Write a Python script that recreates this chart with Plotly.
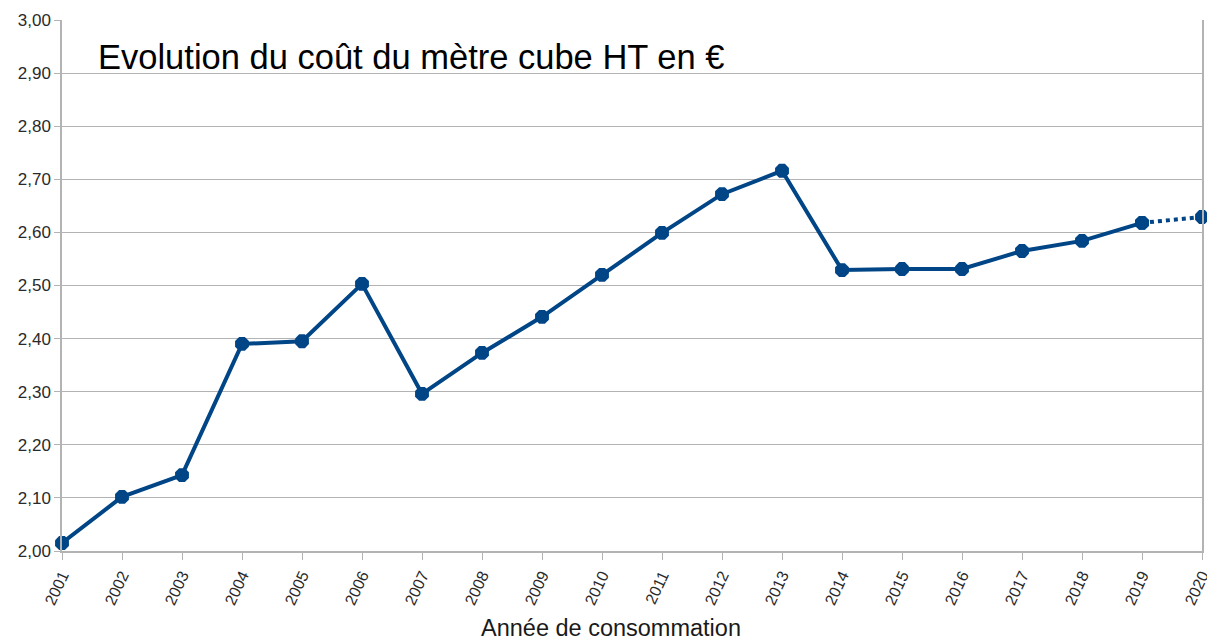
import plotly.graph_objects as go

# Données
annees = [2001, 2002, 2003, 2004, 2005, 2006, 2007, 2008, 2009, 2010,
          2011, 2012, 2013, 2014, 2015, 2016, 2017, 2018, 2019, 2020]
cout_m3 = [2.015, 2.102, 2.143, 2.390, 2.395, 2.503, 2.296, 2.373, 2.441, 2.520,
           2.599, 2.672, 2.716, 2.529, 2.531, 2.531, 2.565, 2.584, 2.618, 2.629]

bleu = '#004586'
gris = '#b3b3b3'

fig = go.Figure()

# Série réelle (trait plein) jusqu'en 2019
fig.add_trace(go.Scatter(x=annees[:-1], y=cout_m3[:-1], mode='lines+markers',
                         line=dict(color=bleu, width=4),
                         marker=dict(color=bleu, size=15, symbol='octagon'),
                         cliponaxis=False, showlegend=False))

# Prévision 2020 (pointillés)
fig.add_trace(go.Scatter(x=annees[-2:], y=cout_m3[-2:], mode='lines+markers',
                         line=dict(color=bleu, width=4, dash='dot'),
                         marker=dict(color=bleu, size=15, symbol='octagon'),
                         cliponaxis=False, showlegend=False))

fig.add_annotation(text='Evolution du coût du mètre cube HT en €',
                   xref='paper', yref='paper', x=0.03, y=0.93,
                   xanchor='left', yanchor='middle', showarrow=False,
                   font=dict(family='Liberation Sans', size=34.5, color='black'))

# titre de l'axe x (centré sur l'image, pas sur la zone de tracé)
fig.add_annotation(text='Année de consommation',
                   xref='paper', yref='paper', x=0.4816, y=-0.145,
                   xanchor='center', yanchor='middle', showarrow=False,
                   font=dict(family='Liberation Sans', size=23.5, color='#1a1a1a'))

fig.update_layout(width=1207, height=640,
                  margin=dict(l=62, r=5, t=20, b=89),
                  plot_bgcolor='white', paper_bgcolor='white',
                  separators=', ',
                  font=dict(family='Liberation Sans', size=17, color='#2a2a2a'))

fig.update_xaxes(range=[2001, 2020], tickmode='array', tickvals=annees,
                 ticktext=[str(a) for a in annees], tickangle=-65,
                 tickfont=dict(size=16),
                 ticklabeloverflow='allow', automargin=False,
                 ticks='outside', ticklen=7, tickcolor=gris,
                 showgrid=False, showline=True, linecolor=gris, linewidth=1.5,
                 zeroline=False)

fig.update_yaxes(range=[2.0, 3.0], dtick=0.1, tickformat='.2f', automargin=False,
                 ticks='outside', ticklen=6, tickcolor=gris,
                 showgrid=True, gridcolor=gris, gridwidth=1,
                 showline=True, linecolor=gris, linewidth=1.5, mirror=True,
                 zeroline=False)

# pas de marge autour de la page, pas de barre d'outils
fig.write_html('out.html', config={'displayModeBar': False},
               post_script="document.body.style.margin = '0';")
